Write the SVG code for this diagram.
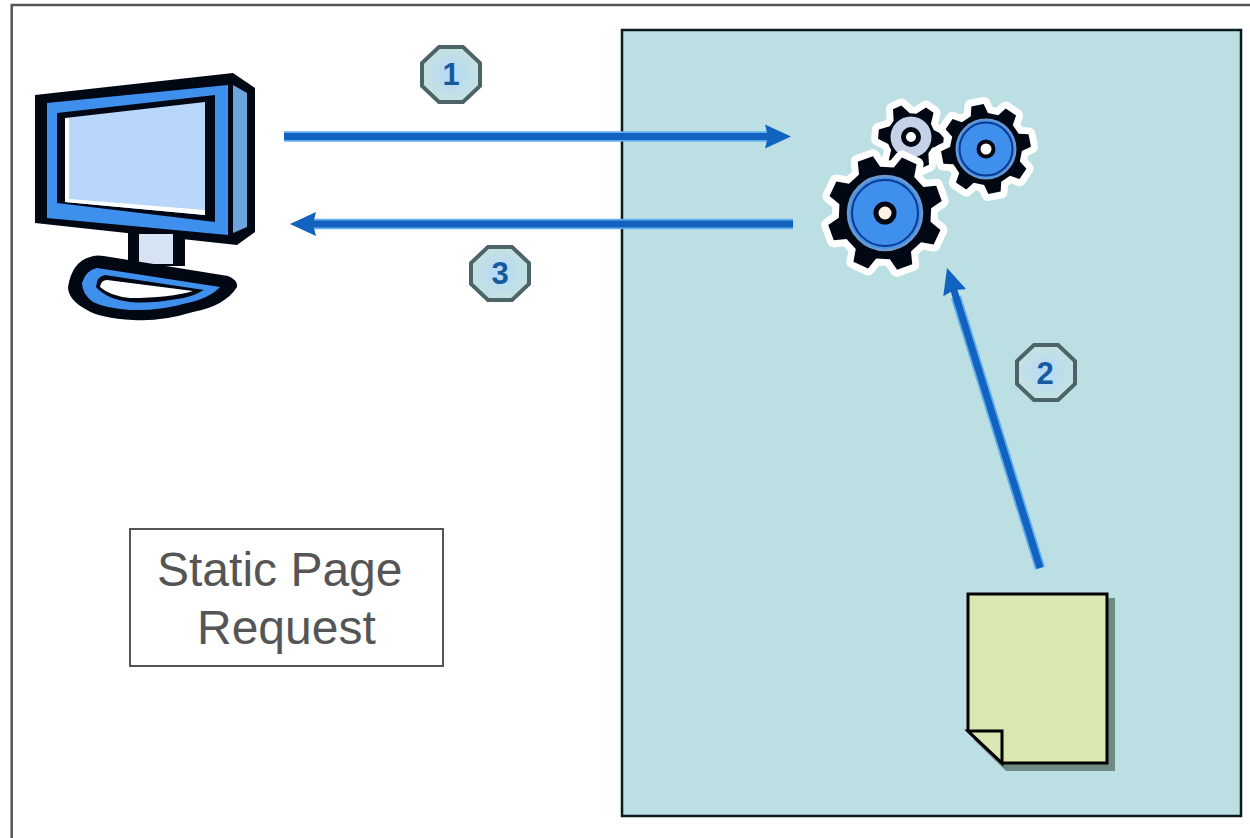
<svg xmlns="http://www.w3.org/2000/svg" width="1250" height="838" viewBox="0 0 1250 838">
<style>
.halo{stroke:#62aef0;stroke-width:10.500;fill:none}
.core{stroke:#1262bf;stroke-width:7;fill:none}
.badge{stroke:#4c6468;stroke-width:4}
.num{font:bold 31px "Liberation Sans",Arial,sans-serif;fill:#15599f;text-anchor:middle}
.label{font:48px "Liberation Sans",Arial,sans-serif;fill:#555}
.blk{fill:#020714}
.gearhalo{fill:#fff;stroke:#fff;stroke-linejoin:round}
</style>
<defs>
<marker id="head" markerUnits="userSpaceOnUse" markerWidth="26" markerHeight="26" refX="16" refY="13" orient="auto"><path d="M0 1L26 13L0 25L3 13Z" fill="#1262bf"/></marker>
<radialGradient id="badgefill"><stop offset="0" stop-color="#b4d8fa"/><stop offset="1" stop-color="#c6e2e0"/></radialGradient>
<polygon id="gear8" points="77.6,-19.4 99,-13.9 99,13.9 77.6,19.4 68.6,41.2 79.9,60.2 60.2,79.9 41.2,68.6 19.4,77.6 13.9,99 -13.9,99 -19.4,77.6 -41.2,68.6 -60.2,79.9 -79.9,60.2 -68.6,41.2 -77.6,19.4 -99,13.9 -99,-13.9 -77.6,-19.4 -68.6,-41.2 -79.9,-60.2 -60.2,-79.9 -41.2,-68.6 -19.4,-77.6 -13.9,-99 13.9,-99 19.4,-77.6 41.2,-68.6 60.2,-79.9 79.9,-60.2 68.6,-41.2"/>
<polygon id="gear6" points="66.8,-27 99,-13.9 99,13.9 66.8,27 56.7,44.3 61.6,78.8 37.5,92.7 10,71.3 -10,71.3 -37.5,92.7 -61.6,78.8 -56.7,44.3 -66.8,27 -99,13.9 -99,-13.9 -66.8,-27 -56.7,-44.3 -61.6,-78.8 -37.5,-92.7 -10,-71.3 10,-71.3 37.5,-92.7 61.6,-78.8 56.7,-44.3"/>
</defs>
<rect width="1250" height="838" fill="#fff"/>
<path d="M1250 5H11.700V838" fill="none" stroke="#555" stroke-width="2.500"/>
<g id="server"><rect x="622" y="30" width="619" height="786" fill="#bbdfe3" stroke="#0a1a1e" stroke-width="2.500"/></g>
<g id="computer">
<path class="blk" d="M35 95L233 73L255 88V232L237 245L35 223Z"/>
<path fill="#3f90ec" d="M47 103L228 85V235L47 218Z"/>
<path fill="#6ea4dc" d="M233 85L247 93V227L233 233Z"/>
<path class="blk" d="M57 113L215 95V222L57 203Z"/>
<path fill="#b9d7fb" d="M65 118L205 102V215L65 202Z"/>
<path fill="#fff" d="M65 118L69 118V199L205 210V215L65 202Z"/>
<rect class="blk" x="128" y="232" width="57" height="34"/>
<rect fill="#d5e3f5" x="139" y="234" width="34" height="30"/>
<path class="blk" d="M68 287Q72 262 90 257Q96 254 110 257L228 276Q238 280 237 287Q225 306 193 312Q160 322 133 320Q100 318 87 310Q68 300 68 287Z"/>
<path fill="#3f90ec" d="M82 283Q86 270 97 268L220 287Q210 298 187 303Q160 311 130 310Q105 308 93 302Q82 294 82 283Z"/>
<path class="blk" d="M96 287Q97 276 105 275L204 290Q190 298 177 299Q150 304 130 302Q106 299 96 287Z"/>
<path fill="#fff" d="M100 287Q101 280 107 280L193 291Q170 298 130 298Q110 296 100 287Z"/>
</g>
<g id="gears">
<g id="gear-small">
<use href="#gear6" class="gearhalo" stroke-width="42" transform="translate(911 137) rotate(5) scale(.33)"/>
<use href="#gear6" class="blk" transform="translate(911 137) rotate(5) scale(.33)"/>
<circle cx="911" cy="137" r="20.500" fill="#c3d2e6"/>
<circle cx="911" cy="137" r="7.500" fill="#fff" stroke="#020714" stroke-width="5"/>
</g>
<g id="gear-medium">
<use href="#gear8" class="gearhalo" stroke-width="31" transform="translate(986 149) rotate(34) scale(.45)"/>
<use href="#gear8" class="blk" transform="translate(986 149) rotate(34) scale(.45)"/>
<circle cx="986" cy="149" r="29.500" fill="#3f90ec" stroke="#6a9ad0" stroke-width="2"/>
<circle cx="986" cy="149" r="26.500" fill="none" stroke="#0a3a90" stroke-width="2"/>
<circle cx="986" cy="149" r="7.500" fill="#fff" stroke="#020714" stroke-width="4"/>
</g>
<g id="gear-large">
<use href="#gear8" class="gearhalo" stroke-width="24" transform="translate(885 213) rotate(25) scale(.58)"/>
<use href="#gear8" class="blk" transform="translate(885 213) rotate(25) scale(.58)"/>
<circle cx="885" cy="213" r="37" fill="#3f90ec" stroke="#6a9ad0" stroke-width="2.500"/>
<circle cx="885" cy="213" r="33" fill="none" stroke="#0a3a90" stroke-width="2"/>
<circle cx="885" cy="213" r="9" fill="#fff2e2" stroke="#020714" stroke-width="5"/>
</g>
</g>
<g id="document">
<path fill="#6f8a80" d="M974 598H1115V771H1006L974 740Z"/>
<path fill="#d9e8b0" stroke="#000" stroke-width="3" d="M968 594H1107V763H1002L968 731Z"/>
<path fill="#d9e8b0" stroke="#000" stroke-width="3" d="M968 731H1002V763Z"/>
</g>
<g id="connectors">
<path class="halo" d="M284 136.500H772"/>
<path class="core" d="M284 136.500H781" marker-end="url(#head)"/>
<path class="halo" d="M793 224H310"/>
<path class="core" d="M793 224H300" marker-end="url(#head)"/>
<path class="halo" d="M1040 568L956 297"/>
<path class="core" d="M1040 568L950 277.500" marker-end="url(#head)"/>
</g>
<g id="badge-1"><path class="badge" fill="url(#badgefill)" d="M439 47H463L480 63V86L463 102H439L422 86V63Z"/><text class="num" x="451" y="85">1</text></g>
<g id="badge-2"><path class="badge" fill="url(#badgefill)" d="M1034 345H1058L1075 361V384L1058 400H1034L1017 384V361Z"/><text class="num" x="1045" y="384">2</text></g>
<g id="badge-3"><path class="badge" fill="url(#badgefill)" d="M488 247H512L529 263V284L512 300H488L471 284V263Z"/><text class="num" x="500" y="284">3</text></g>
<g id="static-page-label">
<rect x="130" y="529" width="313" height="137" fill="#fff" stroke="#555" stroke-width="2"/>
<text class="label" x="157" y="586">Static Page</text>
<text class="label" x="197" y="644">Request</text>
</g>
</svg>
